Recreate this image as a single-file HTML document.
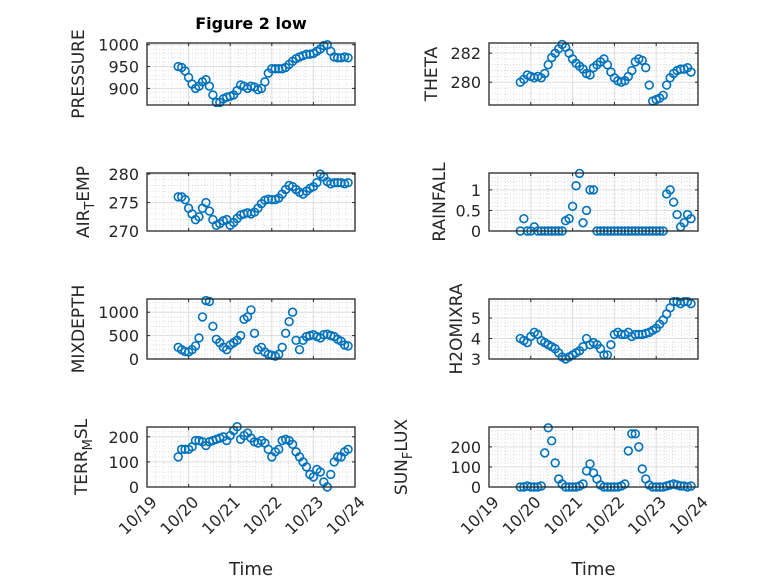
<!DOCTYPE html>
<html><head><meta charset="utf-8"><style>
html,body{margin:0;padding:0;background:#fff;}
svg{display:block;font-family:"DejaVu Sans","Liberation Sans",sans-serif;}
</style></head><body>
<svg id="fig" width="778" height="583" viewBox="0 0 778 583" xmlns="http://www.w3.org/2000/svg">
<rect width="778" height="583" fill="#fff"/>
<text x="251" y="29" text-anchor="middle" font-size="16" font-weight="bold" fill="#000">Figure 2 low</text>
</svg>
<script>
const dayLabels = ["10/19","10/20","10/21","10/22","10/23","10/24"];
const timeStartDay = 0.75;
const timeStepDay = 1/12;
const pressure = [950,948,940,925,910,900,905,915,920,905,885,868,868,876,880,882,885,895,908,905,900,905,903,897,900,915,935,945,945,945,945,948,955,962,968,972,975,978,978,980,985,990,998,1000,985,972,970,970,972,970];
const theta = [280.0,280.2,280.5,280.4,280.3,280.4,280.3,280.6,281.2,281.7,282.0,282.3,282.6,282.4,282.0,281.6,281.3,281.1,280.9,280.6,280.5,281.0,281.2,281.4,281.6,281.2,280.7,280.3,280.1,280.0,280.1,280.4,280.8,281.4,281.6,281.5,281.0,279.8,278.7,278.8,278.9,279.1,279.8,280.3,280.6,280.8,280.9,280.9,281.0,280.7];
const airTemp = [276.0,276.0,275.5,274.0,273.0,272.0,272.5,274.0,275.0,273.5,272.0,271.0,271.3,271.8,272.0,271.0,271.5,272.2,272.8,273.0,273.2,273.0,273.3,274.0,274.8,275.4,275.6,275.5,275.5,275.8,276.5,277.3,278.0,277.8,277.3,276.8,276.5,277.0,277.5,277.8,278.5,280.0,279.5,278.7,278.3,278.5,278.5,278.5,278.3,278.5];
const rainfall = [0,0.3,0,0,0.1,0,0,0,0,0,0,0,0,0.25,0.3,0.6,1.1,1.4,0.2,0.5,1.0,1.0,0,0,0,0,0,0,0,0,0,0,0,0,0,0,0,0,0,0,0,0,0.9,1.0,0.7,0.4,0.1,0.2,0.4,0.3];
const mixDepth = [250,200,160,150,200,280,450,900,1250,1230,700,420,350,250,200,300,350,400,500,850,900,1050,550,200,250,150,100,80,60,100,250,550,800,1000,400,200,400,480,500,520,480,450,520,530,500,480,420,380,300,280];
const h2oMix = [4.0,3.9,3.8,4.1,4.3,4.2,3.9,3.8,3.7,3.6,3.5,3.3,3.1,3.0,3.1,3.2,3.3,3.4,3.6,4.0,3.7,3.8,3.7,3.5,3.2,3.2,3.7,4.2,4.3,4.2,4.2,4.3,4.1,4.2,4.2,4.2,4.25,4.3,4.4,4.5,4.7,4.9,5.2,5.5,5.8,5.8,5.7,5.8,5.8,5.7];
const terrMsl = [120,150,150,150,160,185,185,180,165,180,185,190,195,200,185,205,225,240,190,205,215,195,180,175,185,175,150,120,140,150,185,190,185,170,140,120,100,80,50,40,70,60,20,0,50,100,120,120,140,150];
const sunFlux = [0,0,5,0,0,0,5,170,295,230,120,40,15,0,0,0,0,5,15,80,115,70,40,10,0,0,0,0,0,5,15,180,265,265,200,90,40,10,0,0,0,0,5,10,15,10,5,5,0,5];
const ticksP = [900,950,1000], ticksTh = [280,282], ticksA = [270,275,280], ticksR = [0,0.5,1], ticksM = [0,500,1000], ticksH = [3,4,5], ticksT = [0,100,200], ticksS = [0,100,200];

const NS = "http://www.w3.org/2000/svg";
const svg = document.getElementById('fig');
function mk(tag, attrs, parent){ const e=document.createElementNS(NS,tag); for(const k in attrs) e.setAttribute(k,attrs[k]); (parent||svg).appendChild(e); return e; }

const panels = [
 {name:"pressure", data:pressure, ticks:ticksP, ymin:862, ymax:1004, x0:147, x1:355, y0:43, y1:105, label:["PRESSURE"], lx:78},
 {name:"theta", data:theta, ticks:ticksTh, ymin:278.43, ymax:282.7, x0:489, x1:698, y0:43, y1:105, label:["THETA"], lx:431},
 {name:"air-temp", data:airTemp, ticks:ticksA, ymin:270, ymax:280.2, x0:147, x1:355, y0:173, y1:231, label:["AIR","T","EMP"], lx:83},
 {name:"rainfall", data:rainfall, ticks:ticksR, ymin:0, ymax:1.41, x0:489, x1:698, y0:173, y1:231, label:["RAINFALL"], lx:439},
 {name:"mixdepth", data:mixDepth, ticks:ticksM, ymin:0, ymax:1283, x0:147, x1:355, y0:299, y1:359, label:["MIXDEPTH"], lx:78},
 {name:"h2omixra", data:h2oMix, ticks:ticksH, ymin:3, ymax:5.93, x0:489, x1:698, y0:299, y1:359, label:["H2OMIXRA"], lx:456},
 {name:"terr-msl", data:terrMsl, ticks:ticksT, ymin:0, ymax:239, x0:147, x1:355, y0:427, y1:487, label:["TERR","M","SL"], lx:81, bottom:true},
 {name:"sun-flux", data:sunFlux, ticks:ticksS, ymin:0, ymax:299, x0:489, x1:698, y0:427, y1:487, label:["SUN","F","LUX"], lx:401, bottom:true}
];

panels.forEach(p=>{
  const g = mk('g',{});
  
  
  const xs = d => p.x0 + (d/5)*(p.x1-p.x0);
  const ys = v => p.y1 - (v-p.ymin)/(p.ymax-p.ymin)*(p.y1-p.y0);
  for(let d=0; d<5; d++) for(let k=1;k<5;k++){
    const x=xs(d+k/5);
    mk('line',{x1:x,x2:x,y1:p.y0,y2:p.y1,stroke:'#cfcfcf','stroke-width':0.7,'stroke-dasharray':'1,2'},g);
  }
  const step = p.ticks[1]-p.ticks[0];
  for(let v=p.ticks[0]-step; v<=p.ymax+step; v+=step/5){
    if(v<=p.ymin||v>=p.ymax) continue;
    const y=ys(v);
    mk('line',{x1:p.x0,x2:p.x1,y1:y,y2:y,stroke:'#cfcfcf','stroke-width':0.7,'stroke-dasharray':'1,2'},g);
  }
  for(let d=1; d<5; d++){ const x=xs(d); mk('line',{x1:x,x2:x,y1:p.y0,y2:p.y1,stroke:'#dedede','stroke-width':1},g); }
  p.ticks.forEach(v=>{
    const y=ys(v);
    if(y>p.y0+0.5 && y<p.y1-0.5) mk('line',{x1:p.x0,x2:p.x1,y1:y,y2:y,stroke:'#dedede','stroke-width':1},g);
    const t=mk('text',{x:p.x0-8,y:y+6,'text-anchor':'end','font-size':16,fill:'#262626'},g);
    
    
    t.textContent = String(v);
  });
  for(let d=0; d<=5; d++){ const x=xs(d);
    mk('line',{x1:x,x2:x,y1:p.y1,y2:p.y1-3,stroke:'#262626','stroke-width':1},g);
    mk('line',{x1:x,x2:x,y1:p.y0,y2:p.y0+3,stroke:'#262626','stroke-width':1},g);
  }
  p.ticks.forEach(v=>{ const y=ys(v);
    mk('line',{x1:p.x0,x2:p.x0+3,y1:y,y2:y,stroke:'#262626','stroke-width':1},g);
    mk('line',{x1:p.x1,x2:p.x1-3,y1:y,y2:y,stroke:'#262626','stroke-width':1},g);
  });
  p.data.forEach((v,i)=>{
    const d = timeStartDay + i*timeStepDay;
    const c = mk('circle',{cx:xs(d),cy:ys(v),r:3.9,fill:'none',stroke:'#0072BD','stroke-width':1.6},g);
    
    
  });
  mk('rect',{x:p.x0,y:p.y0,width:p.x1-p.x0,height:p.y1-p.y0,fill:'none',stroke:'#262626','stroke-width':1.3},g);
  const cy=(p.y0+p.y1)/2;
  const lab = mk('text',{x:0,y:0,transform:`translate(${p.lx+6},${cy}) rotate(-90)`,'text-anchor':'middle','font-size':17,fill:'#262626'},g);
  
  
  if(p.label.length===1){ lab.textContent=p.label[0]; }
  else {
    const a=mk('tspan',{},lab); a.textContent=p.label[0];
    const b=mk('tspan',{dy:5,'font-size':13},lab); b.textContent=p.label[1];
    const c=mk('tspan',{dy:-5},lab); c.textContent=p.label[2];
  }
  if(p.bottom){
    dayLabels.forEach((s,d)=>{
      const x=xs(d);
      const t=mk('text',{x:0,y:0,transform:`translate(${x+11},${p.y1+16}) rotate(-45)`,'text-anchor':'end','font-size':16,fill:'#262626'},g);
      
      
      t.textContent=s;
    });
    const xt=mk('text',{x:(p.x0+p.x1)/2,y:575,'text-anchor':'middle','font-size':18,fill:'#262626'},g);
    
    
    xt.textContent='Time';
  }
});
</script>
</body></html>
